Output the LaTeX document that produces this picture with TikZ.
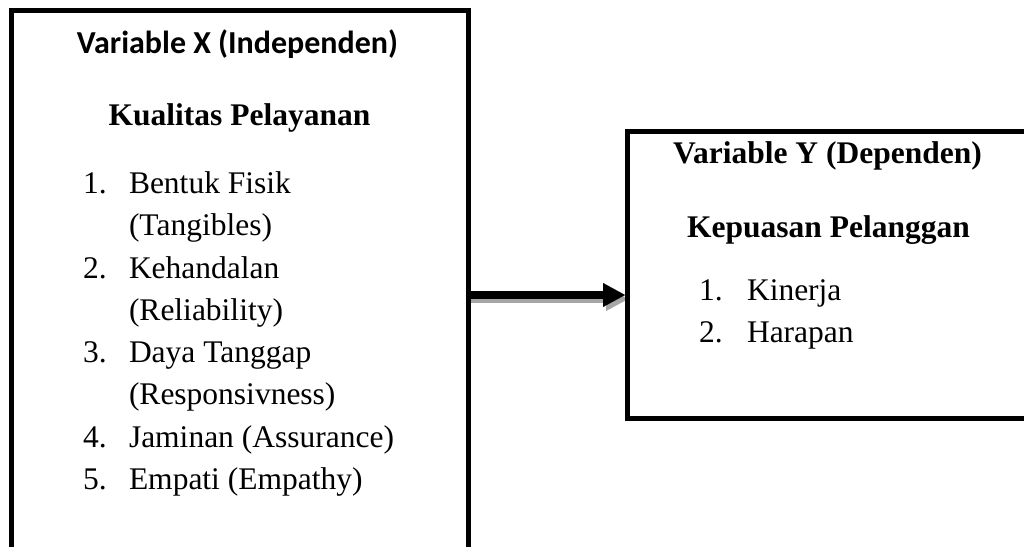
\documentclass[tikz,border=0pt]{standalone}
\usepackage{fontspec}
\setmainfont{Liberation Serif}
\newfontfamily\calfont{Carlito}
\usetikzlibrary{arrows.meta,backgrounds}
\begin{document}
\begin{tikzpicture}[x=1pt,y=-1pt,
  boxframe/.style={draw=black, line width=5pt, inner sep=0pt, outer sep=0pt, rectangle},
  txt/.style={inner sep=0pt, outer sep=0pt, font=\fontsize{31.5}{38}\selectfont},
  headsans/.style={txt, anchor=base, font=\calfont\bfseries\fontsize{32}{38}\selectfont},
  headser/.style={txt, anchor=base, font=\bfseries\fontsize{31.5}{38}\selectfont},
  item/.style={txt, anchor=base west},
  arr/.style={line width=8pt, -{Triangle[length=22pt,width=24pt,line width=0.1pt]}},
  arrshadow/.style={line width=8pt, draw=black!35, -{Triangle[length=22pt,width=24pt,line width=0.1pt, fill=black!35]}}
]
\path[use as bounding box] (0,0) rectangle (1024,546);
\clip (0,0) rectangle (1024,546);

% boxes
\node[boxframe, minimum width=457pt, minimum height=580pt, anchor=north west] (X) at (11.5,10.5) {};
\node[boxframe, minimum width=420pt, minimum height=287pt, anchor=north west] (Y) at (627,131) {};

% left texts
\node[headsans] (xt) at (237.5,53) {Variable X (Independen)};
\node[headser] (xs) at (239.5,125) {Kualitas Pelayanan};
\node[item] (x1n) at (83,193) {1.};
\node[item] (x1a) at (129,193) {Bentuk Fisik};
\node[item] (x1b) at (129,235.5) {(Tangibles)};
\node[item] (x2n) at (83,278) {2.};
\node[item] (x2a) at (129,278) {Kehandalan};
\node[item] (x2b) at (129,320) {(Reliability)};
\node[item] (x3n) at (83,362) {3.};
\node[item] (x3a) at (129,362) {Daya Tanggap};
\node[item] (x3b) at (129,404) {(Responsivness)};
\node[item] (x4n) at (83,447) {4.};
\node[item] (x4a) at (129,447) {Jaminan (Assurance)};
\node[item] (x5n) at (83,489) {5.};
\node[item] (x5a) at (129,489) {Empati (Empathy)};

% right texts
\node[headser] (yt) at (827.5,163) {Variable Y (Dependen)};
\node[headser] (ys) at (828.5,237) {Kepuasan Pelanggan};
\node[item] (y1n) at (699,300) {1.};
\node[item] (y1a) at (747,300) {Kinerja};
\node[item] (y2n) at (699,342) {2.};
\node[item] (y2a) at (747,342) {Harapan};

% arrow
\coordinate (ay) at (0,295);
\coordinate (ays) at (0,299);
\begin{pgfonlayer}{background}
\draw[arrshadow, shorten >=-1pt] (X.east |- ays) -- (Y.west |- ays);
\end{pgfonlayer}
\draw[arr, shorten >=2pt] (X.east |- ay) -- (Y.west |- ay);
\end{tikzpicture}
\end{document}
